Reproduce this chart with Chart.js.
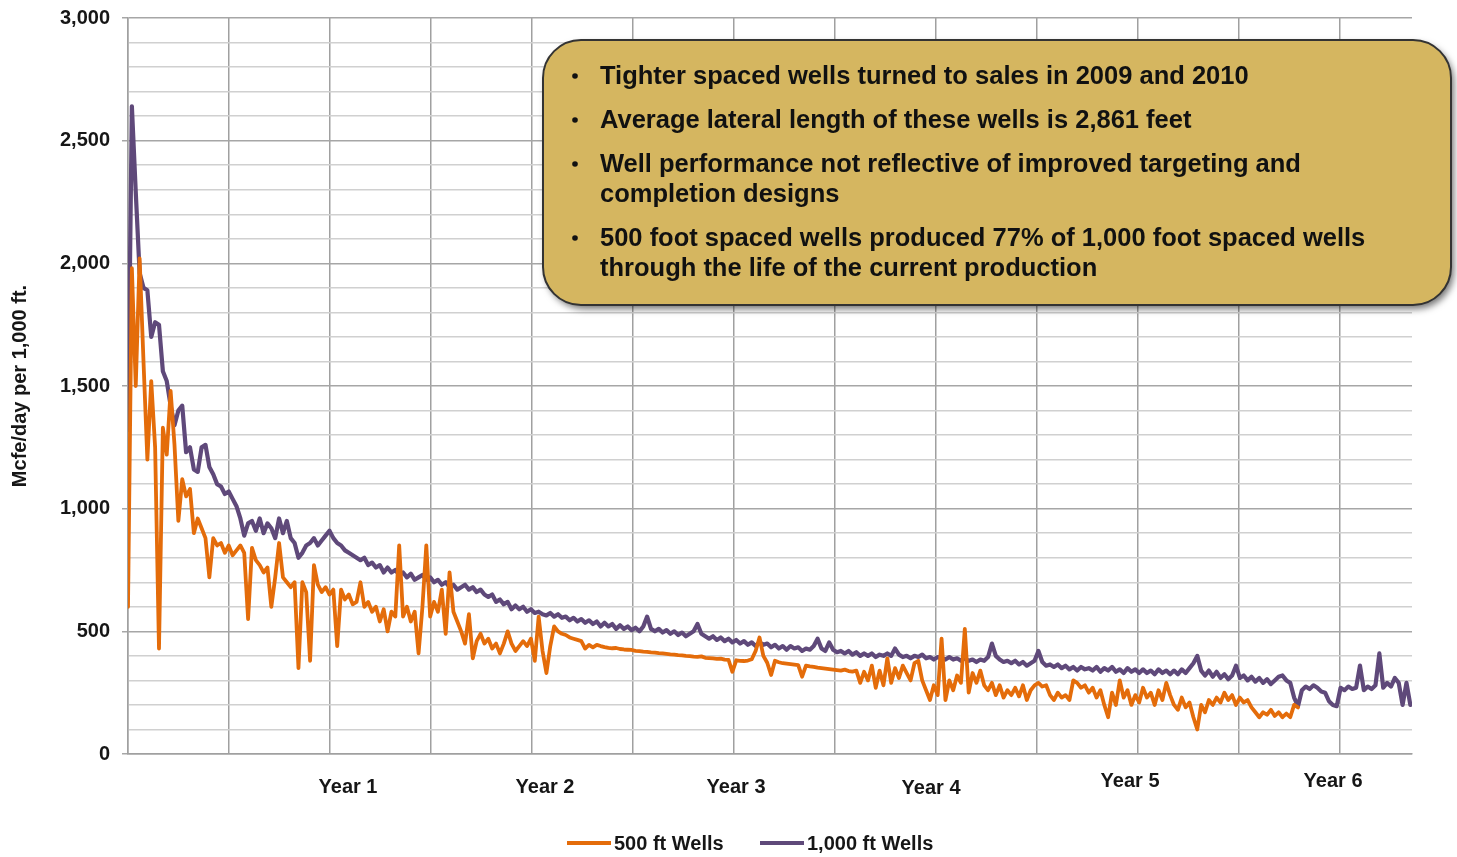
<!DOCTYPE html>
<html>
<head>
<meta charset="utf-8">
<title>Mcfe/day per 1,000 ft. – 500 ft vs 1,000 ft spaced wells</title>
<script src="https://cdn.jsdelivr.net/npm/chart.js@4.4.1/dist/chart.umd.min.js"></script>
<style>
  html, body { margin: 0; padding: 0; background: #ffffff; }
  #wrap { width: 1457px; height: 857px; position: relative; }
</style>
</head>
<body>
<div id="wrap"><canvas id="chart" width="1457" height="857"></canvas></div>
<script>
// ---- data -------------------------------------------------------------
// One sample per week of producing life (x is days on production).
const DAY_STEP = 7;
const X_MAX_DAYS = 2320;
const GRID_STEP_DAYS = 182.5;           // vertical grid every half year

const yearLabels = ['Year 1', 'Year 2', 'Year 3', 'Year 4', 'Year 5', 'Year 6'];
const seriesNames = ['500 ft Wells', '1,000 ft Wells'];

// Mcfe/day per 1,000 ft, 500 ft spaced wells
const wells500 = [
  600, 1980, 1500, 2020, 1600, 1200, 1520, 1250, 430, 1330,
  1220, 1480, 1260, 950, 1120, 1050, 1080, 900, 960, 920,
  880, 720, 880, 850, 860, 820, 850, 810, 830, 850,
  820, 550, 840, 790, 770, 740, 760, 600, 720, 860,
  720, 700, 680, 700, 350, 700, 660, 380, 770, 690,
  660, 680, 650, 670, 440, 670, 630, 650, 610, 620,
  700, 600, 620, 580, 600, 540, 590, 500, 580, 560,
  850, 560, 600, 540, 580, 410, 600, 850, 560, 620,
  580, 670, 490, 740, 580, 540, 500, 450, 570, 390,
  460, 490, 450, 470, 430, 450, 410, 450, 500, 450,
  420, 440, 460, 440, 470, 380, 560, 420, 330, 440,
  520, 500, 490, 485, 475, 470, 465, 460, 430, 445,
  435, 445, 440, 436, 433, 431, 432, 428, 426, 425,
  424, 420, 419, 417, 416, 414, 413, 411, 410, 408,
  406, 405, 403, 402, 400, 399, 397, 396, 398, 392,
  391, 390, 388, 389, 385, 384, 335, 382, 380, 379,
  381, 386, 420, 475, 400, 372, 322, 380, 374, 370,
  368, 366, 364, 362, 315, 360, 357, 355, 352, 350,
  348, 346, 344, 342, 340, 344, 338, 336, 340, 290,
  335, 300, 360, 270, 340, 280, 390, 290, 350, 310,
  360, 330, 300, 370, 380, 300, 260, 220, 280, 240,
  470, 220, 300, 260, 320, 290, 510, 250, 330, 290,
  340, 280, 260, 290, 240, 280, 230, 260, 240, 270,
  235, 280, 220, 260, 280, 290, 275, 280, 240, 220,
  250, 230, 240, 220, 300, 290, 270, 280, 250, 270,
  230, 260, 200, 150, 250, 200, 300, 230, 260, 200,
  240, 210, 270, 230, 250, 200, 260, 220, 290, 240,
  200, 180, 230, 190, 210, 150, 100, 200, 170, 220,
  200, 230, 210, 250, 220, 240, 200, 230, 210, 220,
  190, 170, 150, 170, 160, 180, 155, 170, 150, 165,
  150, 200, 190
];

// Mcfe/day per 1,000 ft, 1,000 ft spaced wells
const wells1000 = [
  1320, 2640, 2290, 1960, 1900, 1890, 1700, 1760, 1750, 1560,
  1520, 1420, 1340, 1400, 1420, 1230, 1250, 1160, 1150, 1250,
  1260, 1170, 1140, 1100, 1090, 1060, 1070, 1040, 1010, 960,
  890, 940, 950, 910, 960, 900, 940, 920, 880, 960,
  900, 950, 880, 860, 800, 820, 850, 860, 880, 850,
  870, 890, 910, 880, 860, 850, 830, 820, 810, 800,
  790, 800, 770, 780, 760, 770, 740, 760, 740, 750,
  730, 740, 720, 735, 710, 720, 730, 710, 720, 700,
  710, 690, 700, 680, 690, 670, 680, 690, 670, 680,
  660, 670, 650, 640, 650, 620, 630, 610, 620, 590,
  605, 590, 600, 580, 590, 575, 580, 570, 565, 575,
  560, 570, 555, 560, 545, 555, 540, 550, 535, 545,
  530, 540, 520, 535, 520, 530, 510, 525, 510, 520,
  505, 515, 500, 520, 560, 510, 500, 510, 495, 505,
  490, 500, 485, 495, 480, 490, 500, 530, 490, 480,
  470, 480, 465, 475, 460, 470, 455, 465, 450, 460,
  445, 455, 440, 455, 445, 450, 435, 445, 430, 440,
  425, 440, 430, 435, 420, 430, 425, 440, 470, 430,
  420, 455, 425, 415, 420, 410, 420, 405, 415, 400,
  410, 400, 410, 395, 405, 400, 410, 400, 430, 405,
  395, 400, 390, 400, 395, 405, 390, 395, 385, 395,
  390, 385, 395, 385, 390, 380, 390, 380, 385, 375,
  385, 380, 395, 450, 400, 385, 375, 380, 370, 380,
  365, 375, 360, 370, 380, 420, 375, 360, 365, 355,
  365, 350, 360, 345, 355, 340, 355, 345, 350, 340,
  355, 335, 350, 340, 355, 335, 345, 330, 350, 335,
  345, 330, 345, 330, 340, 325, 345, 330, 340, 325,
  340, 325, 345, 330, 350, 370, 400, 340, 320, 340,
  315, 335, 310, 325, 305, 320, 360, 310, 320, 300,
  315, 295, 310, 290, 305, 285, 300, 315, 320, 300,
  290, 230, 195, 260, 275, 265, 280, 270, 255, 250,
  215, 200, 195, 270, 260, 275, 265, 270, 360, 260,
  275, 265, 280, 410, 270, 290, 275, 310, 290, 200,
  290, 200
];

// Call-out text: one entry per bullet, one string per printed line
const notes = [
  ['Tighter spaced wells turned to sales in 2009 and 2010'],
  ['Average lateral length of these wells is 2,861 feet'],
  ['Well performance not reflective of improved targeting and', 'completion designs'],
  ['500 foot spaced wells produced 77% of 1,000 foot spaced wells', 'through the life of the current production']
];

// ---- styling ----------------------------------------------------------
const ORANGE = '#E46C0A';
const PURPLE = '#5F497A';
const FONT = '"Liberation Sans", Arial, Helvetica, sans-serif';
const TEXT = '#161616';

Chart.defaults.font.family = FONT;

const toPoints = vals => vals.map((v, i) => ({ x: i * DAY_STEP, y: v }));
const gridDays = [];
for (let d = 0; d < X_MAX_DAYS; d += GRID_STEP_DAYS) gridDays.push(d);

// "Year n" captions under the axis, each near its year mark
const yearLabelPlugin = {
  id: 'yearLabels',
  afterDraw(chart) {
    const { ctx, scales: { x }, chartArea } = chart;
    const nudgeX = [18, 13, 2, -5, -8, -7];
    const dropY = [33, 33, 33, 34, 27, 27];
    ctx.save();
    ctx.font = 'bold 20px ' + FONT;
    ctx.fillStyle = TEXT;
    ctx.textAlign = 'center';
    ctx.textBaseline = 'middle';
    yearLabels.forEach((lab, i) => {
      const px = x.getPixelForValue(365 * (i + 1)) + nudgeX[i];
      ctx.fillText(lab, px, chartArea.bottom + dropY[i]);
    });
    ctx.restore();
  }
};

// Rounded gold call-out box with bullet notes
const noteBoxPlugin = {
  id: 'noteBox',
  afterDraw(chart) {
    const ctx = chart.ctx;
    const bx = 543, by = 40, bw = 908, bh = 265, r = 38;
    ctx.save();
    ctx.shadowColor = 'rgba(0,0,0,0.55)';
    ctx.shadowBlur = 7;
    ctx.shadowOffsetX = 3;
    ctx.shadowOffsetY = 4;
    ctx.beginPath();
    ctx.roundRect(bx, by, bw, bh, r);
    ctx.fillStyle = '#D5B660';
    ctx.fill();
    ctx.shadowColor = 'rgba(0,0,0,0)';
    ctx.lineWidth = 2;
    ctx.strokeStyle = '#333333';
    ctx.stroke();

    ctx.fillStyle = '#111111';
    ctx.font = 'bold 25.5px ' + FONT;
    ctx.textAlign = 'left';
    ctx.textBaseline = 'alphabetic';
    let base = by + 44;
    notes.forEach((lines, k) => {
      if (k > 0) base += 44;
      ctx.beginPath();
      ctx.arc(bx + 32, base - 8, 2.8, 0, Math.PI * 2);
      ctx.fill();
      lines.forEach((ln, j) => {
        if (j > 0) base += 30;
        ctx.fillText(ln, bx + 57, base);
      });
    });
    ctx.restore();
  }
};

// Line-sample legend centred under the chart
const lineLegendPlugin = {
  id: 'lineLegend',
  afterDraw(chart) {
    const ctx = chart.ctx;
    const y = 843;
    const starts = [567, 760];
    ctx.save();
    ctx.font = 'bold 20px ' + FONT;
    ctx.textBaseline = 'middle';
    ctx.textAlign = 'left';
    chart.data.datasets.forEach((ds, i) => {
      const x0 = starts[i];
      ctx.strokeStyle = ds.borderColor;
      ctx.lineWidth = 4;
      ctx.beginPath();
      ctx.moveTo(x0, y);
      ctx.lineTo(x0 + 44, y);
      ctx.stroke();
      ctx.fillStyle = TEXT;
      ctx.fillText(ds.label, x0 + 47, y + 1);
    });
    ctx.restore();
  }
};

new Chart(document.getElementById('chart').getContext('2d'), {
  type: 'line',
  data: {
    datasets: [
      {
        label: seriesNames[0],
        data: toPoints(wells500),
        borderColor: ORANGE,
        backgroundColor: ORANGE,
        borderWidth: 3.8,
        borderJoinStyle: 'round',
        borderCapStyle: 'round',
        pointRadius: 0,
        tension: 0
      },
      {
        label: seriesNames[1],
        data: toPoints(wells1000),
        borderColor: PURPLE,
        backgroundColor: PURPLE,
        borderWidth: 4.2,
        borderJoinStyle: 'round',
        borderCapStyle: 'round',
        pointRadius: 0,
        tension: 0
      }
    ]
  },
  options: {
    responsive: false,
    animation: false,
    events: [],
    layout: { padding: { left: 0, right: 45, top: 18, bottom: 0 } },
    plugins: {
      legend: { display: false },
      tooltip: { enabled: false }
    },
    scales: {
      x: {
        type: 'linear',
        min: 0,
        max: X_MAX_DAYS,
        afterBuildTicks: s => { s.ticks = gridDays.map(v => ({ value: v })); },
        afterFit: s => { s.height = 103; s.paddingLeft = 0; s.paddingRight = 0; },
        ticks: { display: false },
        grid: { color: '#a0a0a0', lineWidth: 1.5, drawTicks: false },
        border: { color: '#a0a0a0', width: 1.5 }
      },
      y: {
        min: 0,
        max: 3000,
        afterFit: s => { s.width = 128; s.paddingTop = 0; s.paddingBottom = 0; },
        ticks: {
          stepSize: 100,
          autoSkip: false,
          padding: 12,
          color: TEXT,
          font: { size: 20, weight: 'bold' },
          callback: v => (v % 500 === 0 ? v.toLocaleString('en-US') : '')
        },
        grid: {
          lineWidth: 1.5,
          tickLength: 6,
          color: c => (c.tick && c.tick.value % 500 === 0 ? '#a6a6a6' : '#d0d0d0'),
          tickColor: c => (c.tick && c.tick.value % 500 === 0 ? '#a6a6a6' : 'rgba(0,0,0,0)')
        },
        border: { color: '#a0a0a0', width: 1.5 },
        title: {
          display: true,
          text: 'Mcfe/day per 1,000 ft.',
          color: TEXT,
          font: { size: 20, weight: 'bold' },
          padding: { top: 8, bottom: 0 }
        }
      }
    }
  },
  plugins: [yearLabelPlugin, noteBoxPlugin, lineLegendPlugin]
});
</script>
</body>
</html>
